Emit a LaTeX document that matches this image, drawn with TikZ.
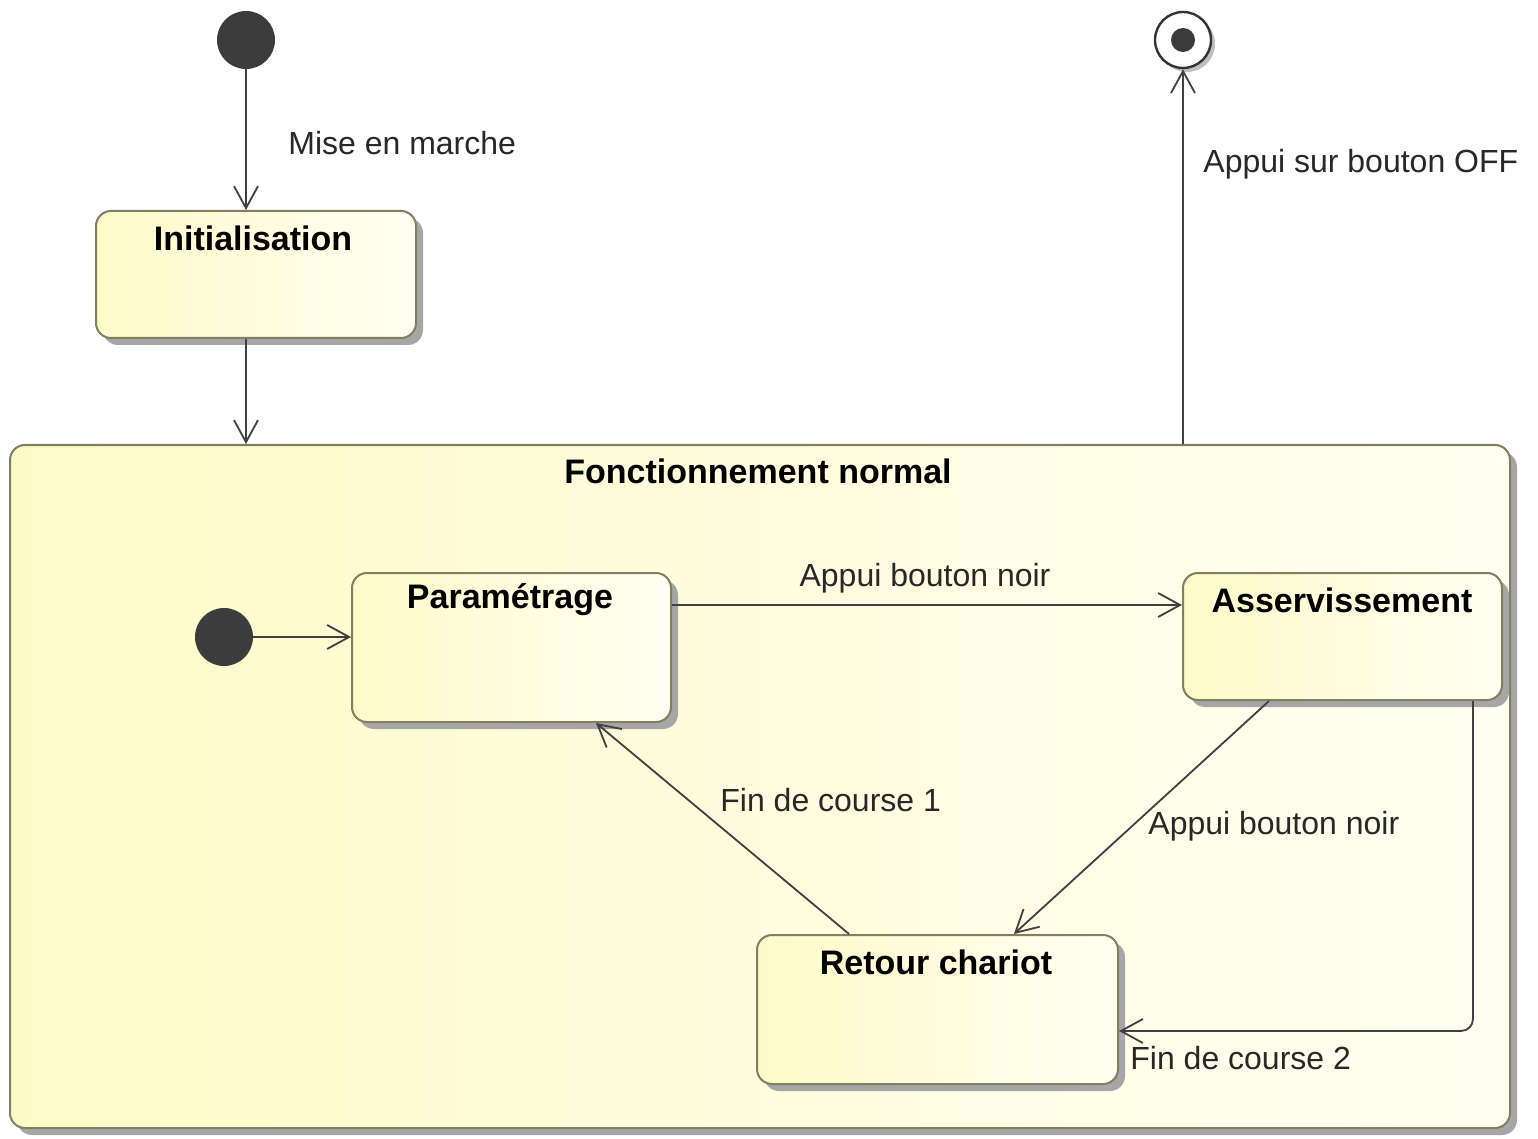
\documentclass[tikz,border=0pt]{standalone}
\usepackage{fontspec}
\setmainfont{Liberation Sans}
\usetikzlibrary{arrows.meta,shadows,calc}
\definecolor{boxline}{RGB}{128,128,96}
\definecolor{yelL}{RGB}{254,250,200}
\definecolor{yelR}{RGB}{255,255,242}
\definecolor{dot}{RGB}{60,60,60}
\definecolor{lbl}{RGB}{40,40,40}
\tikzset{
  statebox/.style={draw=boxline, line width=1pt, rounded corners=7.5pt,
    left color=yelL, right color=yelR,
    drop shadow={shadow xshift=3.5pt, shadow yshift=-3.5pt, fill=black!35, opacity=1},
    inner sep=0pt},
  title/.style={font=\bfseries\fontsize{17}{20}\selectfont, text=black, inner sep=0pt},
  lab/.style={font=\fontsize{16}{19}\selectfont, text=lbl, inner sep=0pt},
  arr/.style={draw=black!75, line width=0.9pt, -{Straight Barb[length=11pt,width=12pt,line width=0.9pt]}},
  initdot/.style={circle, fill=dot, minimum size=29pt, inner sep=0pt},
}
\begin{document}
\begin{tikzpicture}[x=0.5pt,y=-0.5pt]
\useasboundingbox[fill=white] (0,0) rectangle (1538,1139);
% big composite state
\node[statebox, minimum width=750pt, minimum height=341.5pt] (big) at (760,786.5) {};
\node[title] (bigt) at (758,471) {Fonctionnement normal};
% top states
\node[initdot] (i0) at (246,40) {};
\node[circle, draw=black!80, line width=1.2pt, fill=white, minimum size=28pt, inner sep=0pt,
  drop shadow={shadow xshift=2pt, shadow yshift=-2pt, fill=black!25, opacity=1}] (fin) at (1183,40) {};
\node[circle, fill=dot, minimum size=12pt, inner sep=0pt] (finc) at (fin) {};
\node[statebox, minimum width=160pt, minimum height=63.5pt] (init) at (256,274.5) {};
\node[title] (initt) at (253,238) {Initialisation};
% inner states
\node[initdot] (i1) at (224,637) {};
\node[statebox, minimum width=159.5pt, minimum height=74.5pt] (param) at (511.5,647.5) {};
\node[title] (paramt) at (510,600) {Paramétrage};
\node[statebox, minimum width=159.5pt, minimum height=63.5pt] (asserv) at (1342.5,636.5) {};
\node[title] (assert) at (1342,600) {Asservissement};
\node[statebox, minimum width=180.5pt, minimum height=74.5pt] (retour) at (937.5,1009.5) {};
\node[title] (retourt) at (936,962) {Retour chariot};
% connectors
\draw[arr] (i0.south) -- (i0.south |- init.north);
\node[lab, anchor=west] (l1) at (288,143) {Mise en marche};
\draw[arr] (init.south -| i0) -- (big.north -| i0);
\draw[arr] (big.north -| fin) -- (fin.south);
\node[lab, anchor=west] (l2) at (1203,164) {Appui sur bouton OFF};
\draw[arr] (i1.east) -- (param.west |- i1);
\coordinate (pa) at ($(param.north east)+(0,33)$);
\draw[arr] (pa) -- (asserv.west |- pa);
\node[lab] (l3) at (925,578) {Appui bouton noir};
\draw[arr] ($(asserv.south west)+(87,0)$) -- ($(retour.north west)+(258,0)$);
\node[lab, anchor=west] (l4) at (1148,826) {Appui bouton noir};
\draw[arr] ($(retour.north west)+(93,0)$) -- ($(param.south west)+(245,0)$);
\node[lab, anchor=west] (l5) at (720,800) {Fin de course 1};
\coordinate (fc) at ($(retour.north east)+(0,97)$);
\draw[arr, rounded corners=6pt] ($(asserv.south east)+(-30,0)$) |- (fc);
\node[lab, anchor=west] (l6) at (1130,1058) {Fin de course 2};
\end{tikzpicture}
\end{document}
